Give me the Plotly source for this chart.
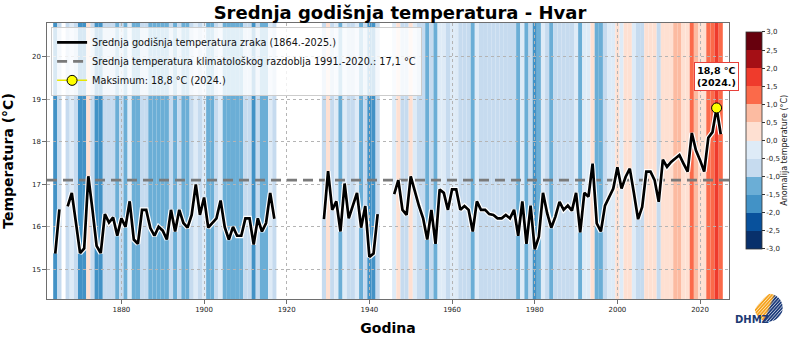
import base64
import math
import plotly.graph_objects as go

# ---------------- data ----------------
years = list(range(1864, 2026))
temps = [
    # 1864-1869
    15.37, 16.41, None, 16.48, 16.80, 16.10,
    # 1870-1879
    15.38, 15.49, 17.19, 16.40, 15.55, 15.38, 16.30, 16.10, 16.22, 15.79,
    # 1880-1889
    16.20, 16.00, 16.60, 15.70, 15.60, 16.40, 16.40, 15.97, 15.79, 16.00,
    # 1890-1899
    15.91, 15.70, 16.40, 15.89, 16.40, 16.09, 15.98, 16.28, 17.00, 16.28,
    # 1900-1909
    16.69, 15.98, 16.09, 16.20, 16.62, 15.99, 15.70, 16.00, 15.79, 15.79,
    # 1910-1919
    16.20, 16.20, 15.58, 16.20, 15.89, 16.09, 16.80, 16.19, None, None,
    # 1920-1929
    None, None, None, None, None, None, None, None, None, 16.18,
    # 1930-1939
    17.31, 16.40, 16.60, 15.89, 17.02, 16.20, 16.51, 16.80, 15.98, 16.49,
    # 1940-1949
    15.29, 15.37, 16.30, None, None, None, 16.77, 17.10, 16.40, 16.28,
    # 1950-1959
    17.19, 16.83, 16.49, 16.20, 15.70, 16.40, 15.60, 16.88, 16.80, 16.40,
    # 1960-1969
    16.88, 16.88, 16.40, 16.49, 16.40, 15.89, 16.60, 16.40, 16.40, 16.30,
    # 1970-1979
    16.28, 16.20, 16.20, 16.28, 16.20, 16.40, 15.79, 16.60, 15.60, 16.50,
    # 1980-1989
    15.47, 15.77, 16.80, 16.32, 15.98, 16.24, 16.59, 16.40, 16.50, 16.38,
    # 1990-1999
    16.80, 15.87, 16.80, 16.71, 17.49, 16.08, 15.89, 16.50, 16.71, 16.90,
    # 2000-2009
    17.40, 16.90, 17.18, 17.37, 16.79, 16.18, 16.47, 17.30, 17.30, 17.10,
    # 2010-2019
    16.59, 17.58, 17.41, 17.53, 17.61, 17.69, 17.49, 17.30, 18.21, 17.80,
    # 2020-2025
    17.57, 17.30, 18.10, 18.23, 18.80, 18.18,
]
assert len(years) == len(temps)

climate_normal = 17.1
anomaly_ticks = [-3.0, -2.5, -2.0, -1.5, -1.0, -0.5, 0.0, 0.5, 1.0, 1.5, 2.0, 2.5, 3.0]
bin_colors = ['#08306b', '#08519c', '#4292c6', '#6baed6', '#c6dbef', '#deebf7',
              '#fee0d2', '#fcbba1', '#fb6a4a', '#ef3b2c', '#a50f15', '#67000d']
x_range = [1862, 2027]
y_range = [14.3, 20.8]
x_ticks = [1880, 1900, 1920, 1940, 1960, 1980, 2000, 2020]
y_ticks = [15, 16, 17, 18, 19, 20]

label_line = 'Srednja godišnja temperatura zraka (1864.-2025.)'
label_norm = 'Srednja temperatura klimatološkog razdoblja 1991.-2020.: 17,1 °C'
label_cbar = 'Anomalija temperature (°C)'

def fmt(v):
    return f"{v:.1f}".replace('.', ',')

valid = [(y, t) for y, t in zip(years, temps) if t is not None]
max_year, max_temp = max(valid, key=lambda p: p[1])
label_max = f'Maksimum: {fmt(max_temp)} °C ({max_year}.)'

def color_for(anom):
    i = int(math.floor(round((anom - anomaly_ticks[0]) / 0.5, 6)))
    i = max(0, min(len(bin_colors) - 1, i))
    return bin_colors[i]

# ---------------- figure ----------------
fig = go.Figure()

# warming stripes (one per year, drawn in axis coordinates under the grid)
shapes = []
for y, t in valid:
    shapes.append(dict(type='rect', xref='x', yref='y domain',
                       x0=y - 0.5, x1=y + 0.5, y0=0, y1=1,
                       fillcolor=color_for(t - climate_normal),
                       line=dict(width=0), layer='below'))

# climatological normal
fig.add_trace(go.Scatter(
    x=x_range, y=[climate_normal, climate_normal], mode='lines',
    line=dict(color='#7a7a7a', width=2.6, dash='10px,6px'),
    name=label_norm, legendrank=2, hoverinfo='skip'))

# white halo under the series
fig.add_trace(go.Scatter(
    x=years, y=temps, mode='lines', connectgaps=False,
    line=dict(color='white', width=5), showlegend=False, hoverinfo='skip'))
fig.add_trace(go.Scatter(
    x=years, y=temps, mode='lines', connectgaps=False,
    line=dict(color='black', width=2.7), name=label_line, legendrank=1))

# maximum
fig.add_trace(go.Scatter(
    x=[max_year], y=[max_temp], mode='markers+lines',
    marker=dict(size=10, color='#ffff00', line=dict(color='black', width=1)),
    line=dict(color='#e6e600', width=1.5),
    name=label_max, legendrank=3))

L, R, T, B = 46.7, 70.7, 22.7, 44.7
W, H = 800, 344
pw, ph = W - L - R, H - T - B

def px_to_paper(px, py):
    return (px - L) / pw, 1 - (py - T) / ph

# colour bar (carrier trace)
n = len(bin_colors)
cscale = []
for i, c in enumerate(bin_colors):
    cscale.append([i / n, c])
    cscale.append([(i + 1) / n, c])
cb_x, cb_y = px_to_paper(746.7, 31.7)
fig.add_trace(go.Scatter(
    x=[None], y=[None], mode='markers', showlegend=False, hoverinfo='skip',
    marker=dict(color=[0], cmin=anomaly_ticks[0], cmax=anomaly_ticks[-1],
                colorscale=cscale, showscale=True,
                colorbar=dict(
                    thicknessmode='pixels', thickness=15.6,
                    lenmode='pixels', len=217,
                    xref='paper', x=cb_x, xanchor='left', xpad=0,
                    yref='paper', y=cb_y, yanchor='top', ypad=0,
                    tickvals=anomaly_ticks, ticktext=[fmt(v) for v in anomaly_ticks],
                    ticks='outside', ticklen=3, tickwidth=1, tickcolor='#333',
                    tickfont=dict(size=7, color='#222'),
                    outlinewidth=0.8, outlinecolor='#333',
                ))))

# logo (svg)
stripes_svg = ''
for k in range(-8, 9):
    off = k * 7.0
    stripes_svg += (f'<line x1="-10" y1="{60 + off + 25}" x2="70" y2="{off - 5}" '
                    f'stroke="url(#g)" stroke-width="3.6"/>')
svg = ('<svg xmlns="http://www.w3.org/2000/svg" width="60" height="60" viewBox="0 0 60 60">'
       '<defs><clipPath id="c"><circle cx="30" cy="30" r="28"/></clipPath>'
       '<linearGradient id="g" gradientUnits="userSpaceOnUse" x1="5" y1="20" x2="55" y2="40">'
       '<stop offset="0" stop-color="#f5a21b"/><stop offset="0.48" stop-color="#f5a21b"/>'
       '<stop offset="0.56" stop-color="#1c3b7a"/><stop offset="1" stop-color="#1c3b7a"/>'
       '</linearGradient></defs>'
       '<g clip-path="url(#c)">' + stripes_svg + '</g>'
       '<path d="M0 0 L34 0 Q14 14 0 36 Z" fill="white"/>'
       '</svg>')
logo_src = 'data:image/svg+xml;base64,' + base64.b64encode(svg.encode()).decode()

lx, ly = px_to_paper(754, 293)
dx, dy = px_to_paper(771, 327.5)
ctx, cty = px_to_paper(790.5, 150)

fig.update_layout(
    template='none',
    width=W, height=H,
    margin=dict(l=L, r=R, t=T, b=B, pad=0, autoexpand=False),
    paper_bgcolor='white', plot_bgcolor='white',
    font=dict(family='DejaVu Sans', color='#222'),
    shapes=shapes,
    title=dict(text='Srednja godišnja temperatura - Hvar', xref='container', x=0.5,
               xanchor='center', yref='container', y=1 - 12.5 / H, yanchor='middle',
               font=dict(size=18, weight='bold', color='black')),
    showlegend=True,
    legend=dict(x=0.006, y=0.986, xanchor='left', yanchor='top',
                bgcolor='rgba(255,255,255,0.8)', bordercolor='#cccccc', borderwidth=1,
                font=dict(size=9.7, color='#111'), itemwidth=30, tracegroupgap=0),
    xaxis=dict(range=x_range, tickvals=x_ticks, ticktext=[str(v) for v in x_ticks],
               showgrid=True, gridcolor='#b4b4b4', griddash='dot', gridwidth=0.8,
               showline=True, mirror=True, linecolor='#6e6e6e', linewidth=1.3,
               ticks='outside', ticklen=3.5, tickcolor='#6e6e6e', tickwidth=1,
               tickfont=dict(size=7, color='#222'), zeroline=False, automargin=False,
               title=dict(text='Godina', font=dict(size=14, weight='bold', color='black'),
                          standoff=10)),
    yaxis=dict(range=y_range, tickvals=y_ticks, ticktext=[str(v) for v in y_ticks],
               showgrid=True, gridcolor='#b4b4b4', griddash='dot', gridwidth=0.8,
               showline=True, mirror=True, linecolor='#6e6e6e', linewidth=1.3,
               ticks='outside', ticklen=3.5, tickcolor='#6e6e6e', tickwidth=1,
               tickfont=dict(size=7, color='#222'), zeroline=False, automargin=False,
               title=dict(text='Temperatura (°C)', font=dict(size=14, weight='bold', color='black'),
                          standoff=16)),
    annotations=[
        dict(x=max_year, y=max_temp, xref='x', yref='y', showarrow=False, yshift=31,
             text=f'<b>{fmt(max_temp)} °C<br>({max_year}.)</b>',
             font=dict(size=9.5, color='black'), bgcolor='white',
             bordercolor='#e8403a', borderwidth=1, borderpad=2),
        dict(x=ctx, y=cty, xref='paper', yref='paper', showarrow=False, text=label_cbar,
             textangle=-90, font=dict(size=8, color='#222')),
        dict(x=dx, y=dy, xref='paper', yref='paper', showarrow=False, text='<b>DHMZ</b>',
             font=dict(size=10, color='#1d3a73')),
    ],
    images=[dict(source=logo_src, xref='paper', yref='paper', x=lx, y=ly,
                 sizex=30 / pw, sizey=30 / ph, xanchor='left', yanchor='top',
                 sizing='contain', layer='above')],
)

fig.write_html('out.html', config={'displayModeBar': False})
